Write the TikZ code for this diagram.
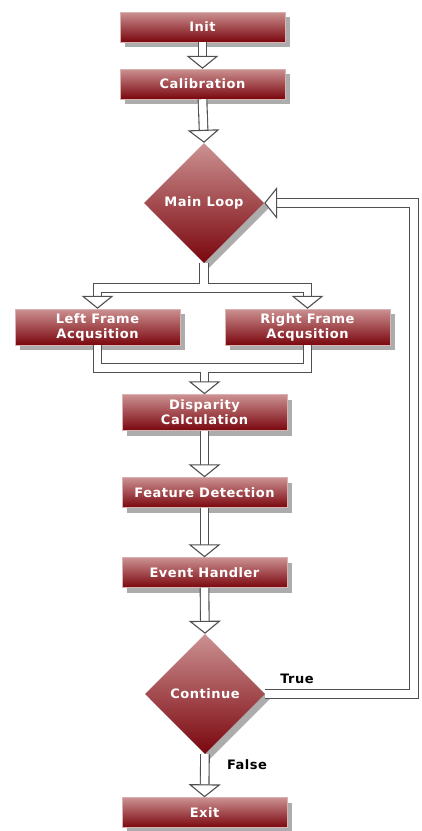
\documentclass[tikz,border=0pt]{standalone}
\usepackage{fontspec}
\usepackage{tikz}
\usetikzlibrary{shapes.geometric,shadows,arrows.meta}
\newfontfamily\flowfont{DejaVu Sans}[LetterSpace=4]
\definecolor{boxtop}{RGB}{204,145,145}
\definecolor{boxbot}{RGB}{122,6,14}
\definecolor{pipeline}{RGB}{80,80,80}
\definecolor{shade}{RGB}{172,172,172}
\tikzset{
  box/.style={rectangle, minimum width=165pt, minimum height=30pt, inner sep=1pt,
    top color=boxtop, bottom color=boxbot, draw=boxtop!70!white, line width=0.4pt,
    text=white, align=center, font=\flowfont\bfseries\fontsize{13}{15}\selectfont,
    drop shadow={shadow xshift=5pt, shadow yshift=-5pt, fill=shade, opacity=1}},
  decision/.style={diamond, aspect=1, minimum size=120pt, inner sep=0pt,
    top color=boxtop, bottom color=boxbot, draw=none,
    text=white, font=\flowfont\bfseries\fontsize{13}{15}\selectfont,
    drop shadow={shadow xshift=5pt, shadow yshift=-5pt, fill=shade, opacity=1}},
  pipe/.style={draw=pipeline, line width=1.1pt, double=white, double distance=7.5pt},
  hollow/.style={pipe, -{Triangle[fill=white, length=13pt, width=32pt, line width=1.1pt]}},
  lbl/.style={font=\flowfont\bfseries\fontsize{13}{15}\selectfont, text=black}
}
\begin{document}
\begin{tikzpicture}[x=1pt, y=-1pt]
\useasboundingbox[fill=white] (0,0) rectangle (421,831);

\node[box](init) at (202.5,27) {Init};
\node[box](calib) at (202.5,84) {Calibration};
\node[decision](mainloop) at (204,203) {Main Loop};
\node[box, minimum height=36pt](left) at (97.5,327) {Left Frame\\Acqusition};
\node[box, minimum height=36pt](right) at (307.5,327) {Right Frame\\Acqusition};
\node[box, minimum height=36pt](disp) at (204.5,412.5) {Disparity\\Calculation};
\node[box](feat) at (204.5,492.5) {Feature Detection};
\node[box](event) at (204.5,572.5) {Event Handler};
\node[decision](cont) at (205,694) {Continue};
\node[box](exit) at (204.5,812.5) {Exit};

\coordinate (ml) at (97.5,288);
\coordinate (al) at (97.5,294);
\coordinate (mr) at (307.5,288);
\coordinate (ar) at (307.5,294);
\coordinate (mg) at (204.5,368);
\coordinate (ag) at (204.5,378);
\coordinate (fb) at (414,203);

\draw[hollow] (init.south) -- (calib.north);
\draw[hollow] (calib.south) -- (mainloop.north);
\draw[pipe] (mainloop.south) |- (ml) -- (al) (mainloop.south) |- (mr) -- (ar);
\draw[hollow] (al) -- (left.north);
\draw[hollow] (ar) -- (right.north);
\draw[pipe] (left.south) |- (mg) (right.south) |- (mg) -- (ag);
\draw[hollow] (ag) -- (disp.north);
\draw[hollow] (disp.south) -- (feat.north);
\draw[hollow] (feat.south) -- (event.north);
\draw[hollow] (event.south) -- (cont.north);
\draw[hollow] (cont.east) -| (fb) -- (mainloop.east);
\draw[hollow] (cont.south) -- (exit.north);

\node[lbl](ltrue) at (297,679) {True};
\node[lbl](lfalse) at (247,765) {False};
\end{tikzpicture}
\end{document}
